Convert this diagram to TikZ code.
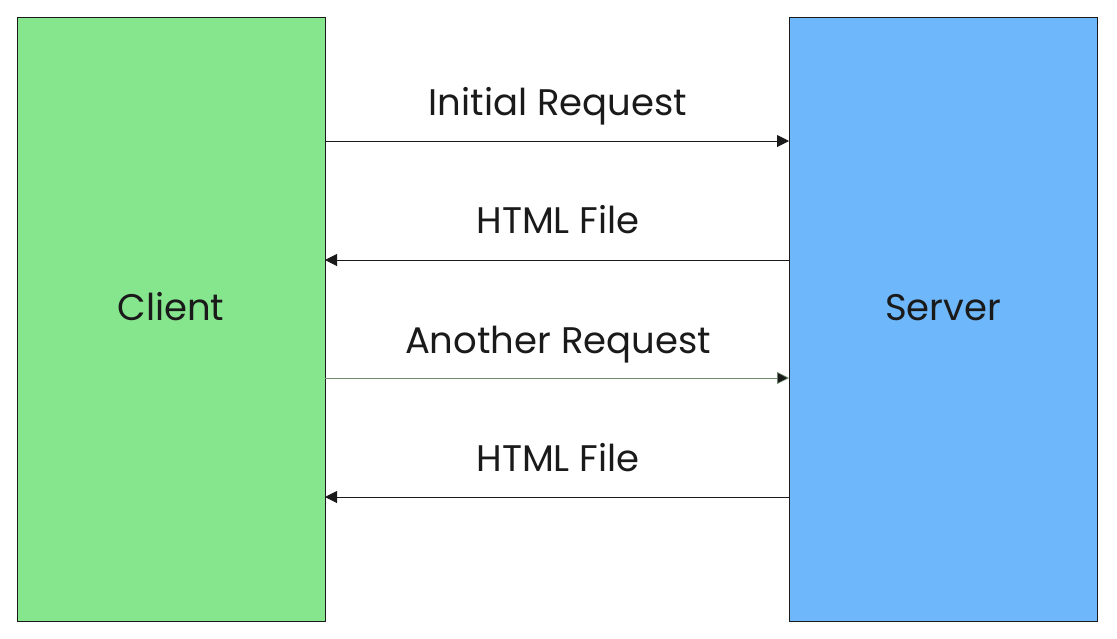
\documentclass[tikz,border=0pt]{standalone}
\usepackage{fontspec}
\setmainfont{Poppins}
\usetikzlibrary{arrows.meta}
\definecolor{cgreen}{HTML}{86E68E}
\definecolor{sblue}{HTML}{6EB7FA}
\definecolor{txt}{HTML}{1A1A1A}
\definecolor{gline}{HTML}{6E8E6E}
\begin{document}
\begin{tikzpicture}[x=1pt,y=-1pt,
  box/.style={draw=txt,line width=1pt,minimum width=308pt,minimum height=604pt,inner sep=0pt},
  lbl/.style={font=\fontsize{37}{40}\selectfont,text=txt,inner sep=0pt,anchor=base},
  msg/.style={line width=1pt,draw=txt,-{Triangle[length=12pt,width=12pt]}}]
\useasboundingbox (0,0) rectangle (1117,638);
\node[box,fill=cgreen] (client) at (171,319) {};
\node[box,fill=sblue] (server) at (943,319) {};
\node[lbl] (clientlbl) at (171,320) {Client};
\node[lbl] (serverlbl) at (943,320) {Server};
\coordinate (c1) at (325,141); \coordinate (s1) at (789,141);
\coordinate (c2) at (325,260); \coordinate (s2) at (789,260);
\coordinate (c3) at (325,378); \coordinate (s3) at (789,378);
\coordinate (c4) at (325,497); \coordinate (s4) at (789,497);
\draw[msg] (c1) -- (s1);
\draw[msg] (s2) -- (c2);
\draw[msg,draw=gline,line width=0.7pt,-{Triangle[length=12pt,width=12pt,fill=txt]}] (c3) -- (s3);
\draw[msg] (s4) -- (c4);
\node[lbl] (l1) at (558,115) {Initial Request};
\node[lbl] (l2) at (558,233) {HTML File};
\node[lbl] (l3) at (558,353) {Another Request};
\node[lbl] (l4) at (558,471) {HTML File};
\end{tikzpicture}
\end{document}
